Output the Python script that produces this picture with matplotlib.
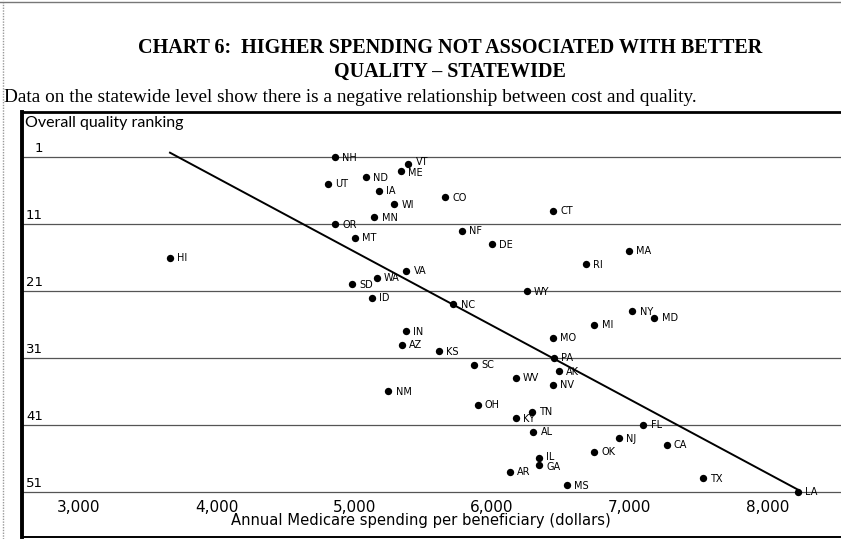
import matplotlib
matplotlib.use("Agg")
import matplotlib.pyplot as plt
from matplotlib.transforms import ScaledTranslation
from matplotlib.lines import Line2D
import numpy as np

# ---- data ----
states = ["NH", "VT", "ME", "ND", "UT", "IA", "CO", "WI", "CT", "MN",
          "OR", "NF", "MT", "DE", "MA", "HI", "RI", "VA", "WA", "SD",
          "WY", "ID", "NC", "NY", "MD", "MI", "IN", "MO", "AZ", "KS",
          "PA", "SC", "AK", "WV", "NV", "NM", "OH", "TN", "KY", "FL",
          "AL", "NJ", "CA", "OK", "IL", "GA", "AR", "TX", "MS", "LA"]
spending = [4859, 5392, 5337, 5082, 4811, 5181, 5658, 5290, 6445, 5145,
            4859, 5780, 5005, 5998, 6997, 3661, 6680, 5377, 5162, 4981,
            6252, 5130, 5719, 7019, 7179, 6743, 5375, 6441, 5344, 5615,
            6450, 5871, 6486, 6172, 6441, 5247, 5896, 6288, 6172, 7099,
            6300, 6922, 7269, 6743, 6341, 6341, 6130, 7534, 6542, 8220]
quality_rank = [1, 2, 3, 4, 5, 6, 7, 8, 9, 10,
                11, 12, 13, 14, 15, 16, 17, 18, 19, 20,
                21, 22, 23, 24, 25, 26, 27, 28, 29, 30,
                31, 32, 33, 34, 35, 36, 38, 39, 40, 41,
                42, 43, 44, 45, 46, 47, 48, 49, 50, 51]
trend_slope = 0.011044
trend_intercept = -40.12

y_ticks = [1, 11, 21, 31, 41, 51]
y_tick_labels = ["1", "11", "21", "31", "41", "51"]
x_ticks = [3000, 4000, 5000, 6000, 7000, 8000]
x_tick_labels = ["3,000", "4,000", "5,000", "6,000", "7,000", "8,000"]

title = "CHART 6:  HIGHER SPENDING NOT ASSOCIATED WITH BETTER\nQUALITY \u2013 STATEWIDE"
subtitle = "Data on the statewide level show there is a negative relationship between cost and quality."
x_label = "Annual Medicare spending per beneficiary (dollars)"
y_label = "Overall quality ranking"

# small label nudges (points) for crowded neighbours
label_nudge = {"VT": (0, 1.6), "ME": (0, -1.4), "IL": (0, 1.6), "GA": (0, -1.4)}

# ---- figure ----
W, H = 841, 539
fig = plt.figure(figsize=(W / 100, H / 100), dpi=100)

def fx(px):
    return px / W

def fy(py):
    return 1 - py / H

# page frame lines (scan edges)
fig.add_artist(Line2D([fx(3), fx(3)], [0, 1], color="#999999", lw=1.0, ls=(0, (1, 1))))
fig.add_artist(Line2D([0, 1], [fy(2), fy(2)], color="#777777", lw=1.0))

fig.text(fx(450), fy(60), title, ha="center", va="center",
         family="Liberation Serif", weight="bold", fontsize=14.5, linespacing=1.3)
fig.text(fx(4), fy(97), subtitle, ha="left", va="center",
         family="Liberation Serif", fontsize=13.9)

top_px, bot_px, left_px = 112, 537, 22
ax = fig.add_axes([fx(left_px), fy(bot_px), 1 - fx(left_px), (bot_px - top_px) / H])

ax.set_xlim(2586, 8535)
ax.set_ylim(57.76, -5.77)

# gridlines at ranking ticks
for t in y_ticks:
    ax.axhline(t, color="#555555", lw=0.9, zorder=1)

ax.scatter(spending, quality_rank, s=28, color="black", zorder=3, linewidths=0)
for s, x, y in zip(states, spending, quality_rank):
    dx, dy = label_nudge.get(s, (0, 0))
    ax.annotate(s, (x, y), xytext=(5.2 + dx, -0.3 + dy), textcoords="offset points",
                ha="left", va="center", fontsize=7.0, family="DejaVu Sans", zorder=4)

tx = np.array([min(spending), max(spending)])
ax.plot(tx, trend_intercept + trend_slope * tx, color="black", lw=1.4, zorder=2)

# spines
ax.spines["right"].set_visible(False)
ax.spines["left"].set_linewidth(2.8)
ax.spines["top"].set_linewidth(2.0)
ax.spines["bottom"].set_linewidth(1.4)

# y ticks inside, above gridline
ax.set_yticks(y_ticks, y_tick_labels)
ax.tick_params(axis="y", length=0, pad=-15, labelsize=9.5)
for lab in ax.get_yticklabels():
    lab.set_family("DejaVu Sans")
    lab.set_transform(lab.get_transform() + ScaledTranslation(0, 0.10, fig.dpi_scale_trans))

# x ticks inside
ax.set_xticks(x_ticks, x_tick_labels)
ax.tick_params(axis="x", length=0, pad=0, labelsize=11)
for lab in ax.get_xticklabels():
    lab.set_family("DejaVu Sans")
    lab.set_transform(lab.get_transform() + ScaledTranslation(0, 0.375, fig.dpi_scale_trans))

ax.set_xlabel(x_label, fontsize=10.6, family="DejaVu Sans", va="center")
ax.xaxis.set_label_coords((421 - left_px) / (W - left_px), (bot_px - 521) / (bot_px - top_px))
ax.set_ylabel(y_label, fontsize=11.5, family="Lato", rotation=0, ha="left", va="center")
ax.yaxis.set_label_coords((25 - left_px) / (W - left_px), (bot_px - 123) / (bot_px - top_px))

fig.savefig("out.png", dpi=100)
